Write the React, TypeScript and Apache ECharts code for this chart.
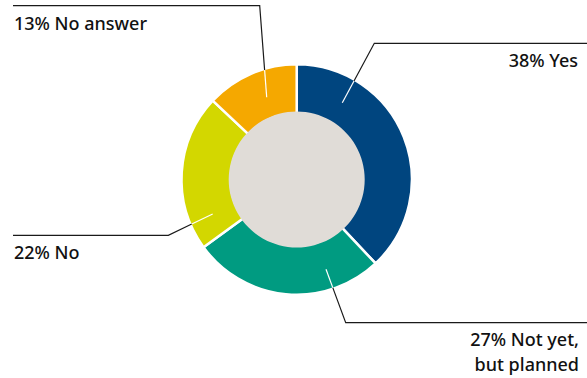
import React, { useEffect, useRef } from "react";
import * as echarts from "echarts";

const categories = ["Yes", "Not yet,\nbut planned", "No", "No answer"];
const values = [38, 27, 22, 13];
const colors = ["#00457f", "#009b81", "#d3d700", "#f5a800"];
const labelX = [578, 579, 14, 14];
const labelY = [60, 351, 252, 23];
const labelAlign = ["right", "right", "left", "left"];

// leader lines: inner start point, elbow, horizontal end x
const leaderStart = [[342.3, 102.7], [326, 269.3], [212.7, 214], [266.7, 97.3]];
const leaderElbow = [[374.3, 43.3], [345.7, 322.7], [168.3, 235.3], [259.7, 5.7]];
const leaderEndX = [587, 587, 13, 13];

const CX = 296.7;
const CY = 179.5;
const R_OUT = 114;
const R_IN = 68;

function edgePoint(s: number[], e: number[]) {
  const dx = e[0] - s[0];
  const dy = e[1] - s[1];
  const fx = s[0] - CX;
  const fy = s[1] - CY;
  const a = dx * dx + dy * dy;
  const b = 2 * (fx * dx + fy * dy);
  const c = fx * fx + fy * fy - R_OUT * R_OUT;
  const t = (-b + Math.sqrt(b * b - 4 * a * c)) / (2 * a);
  return [s[0] + t * dx, s[1] + t * dy];
}

export default function App() {
  const ref = useRef<HTMLDivElement>(null);
  useEffect(() => {
    if (!ref.current) return;
    const chart = echarts.init(ref.current, undefined, { renderer: "svg" });
    const graphics: any[] = [];
    leaderStart.forEach((s, i) => {
      const e = leaderElbow[i];
      const p = edgePoint(s, e);
      graphics.push({
        type: "polyline",
        z: 100,
        shape: { points: [p, e, [leaderEndX[i], e[1]]] },
        style: { stroke: "#1a1a1a", lineWidth: 1.2, fill: null },
        silent: true,
      });
      graphics.push({
        type: "line",
        z: 100,
        shape: { x1: s[0], y1: s[1], x2: p[0], y2: p[1] },
        style: { stroke: "#ffffff", lineWidth: 1.2 },
        silent: true,
      });
    });
    chart.setOption({
      animation: false,
      backgroundColor: "#ffffff",
      graphic: graphics,
      series: [
        {
          type: "pie",
          center: [CX, CY],
          radius: [R_IN - 2, R_OUT + 1.2],
          startAngle: 90,
          clockwise: true,
          silent: true,
          itemStyle: { borderColor: "#ffffff", borderWidth: 2.5 },
          data: categories.map((c, i) => ({
            name: c,
            value: values[i],
            itemStyle: { color: colors[i] },
          })),
          label: {
            show: true,
            position: "outside",
            formatter: (p: any) => {
              const parts = String(p.name).split("\n");
              parts[0] = `${p.value}% ${parts[0]}`;
              return parts.join("\n");
            },
            fontFamily: "Noto Sans",
            fontSize: 18,
            fontWeight: 500,
            color: "#111111",
            lineHeight: 25,
          },
          labelLine: { show: false },
          labelLayout: (params: any) => {
            const i = params.dataIndex;
            return {
              x: labelX[i],
              y: labelY[i],
              align: labelAlign[i],
              verticalAlign: "middle",
            };
          },
        },
        {
          type: "pie",
          center: [CX, CY],
          radius: [0, R_IN],
          silent: true,
          label: { show: false },
          labelLine: { show: false },
          data: [{ name: "center", value: 1, itemStyle: { color: "#e0dcd7" } }],
        },
      ],
    });
    return () => chart.dispose();
  }, []);
  return (
    <div
      ref={ref}
      style={{ position: "absolute", left: 0, top: 0, width: 587, height: 378 }}
    />
  );
}
